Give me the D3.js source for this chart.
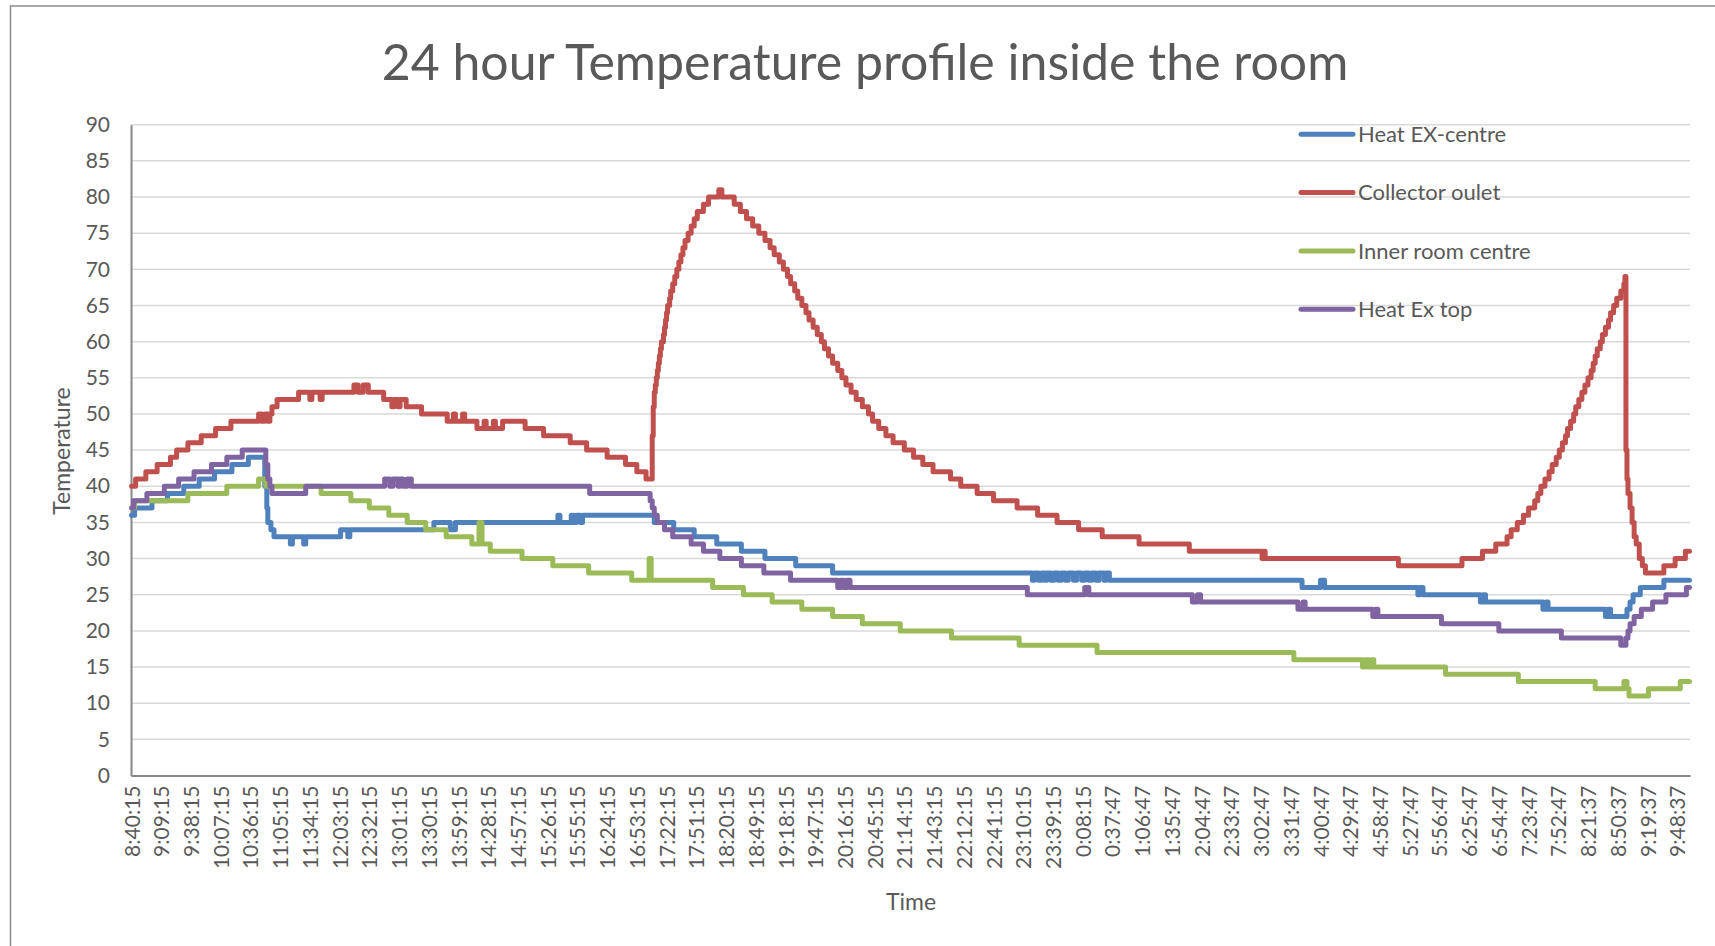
<!DOCTYPE html>
<html>
<head>
<meta charset="utf-8">
<script src="https://cdn.jsdelivr.net/npm/d3@7"></script>
<style>
  html, body { margin: 0; padding: 0; background: #fff; }
  svg { display: block; font-family: Lato, "Open Sans", sans-serif; }
</style>
</head>
<body>
<div id="chart"></div>
<script>
// one reading per minute, 1521 readings, shown as [index, value] wherever the value changes
const pointCount = 1521;

const tickLabels = ['8:40:15', '9:09:15', '9:38:15', '10:07:15', '10:36:15', '11:05:15', '11:34:15',
    '12:03:15', '12:32:15', '13:01:15', '13:30:15', '13:59:15', '14:28:15', '14:57:15', '15:26:15',
    '15:55:15', '16:24:15', '16:53:15', '17:22:15', '17:51:15', '18:20:15', '18:49:15', '19:18:15',
    '19:47:15', '20:16:15', '20:45:15', '21:14:15', '21:43:15', '22:12:15', '22:41:15', '23:10:15',
    '23:39:15', '0:08:15', '0:37:47', '1:06:47', '1:35:47', '2:04:47', '2:33:47', '3:02:47', '3:31:47',
    '4:00:47', '4:29:47', '4:58:47', '5:27:47', '5:56:47', '6:25:47', '6:54:47', '7:23:47', '7:52:47',
    '8:21:37', '8:50:37', '9:19:37', '9:48:37'];
const tickEvery = 29;

const yTicks = d3.range(0, 91, 5);

const seriesNames = ['Heat EX-centre', 'Collector oulet', 'Inner room centre', 'Heat Ex top'];
const seriesColors = ['#4f81bd', '#c0504d', '#9bbb59', '#8064a2'];

const heatExCentre = [[0,36],[3,37],[20,38],[35,39],[51,40],[66,41],[81,42],[98,43],[114,44],[130,40],
    [132,37],[133,35],[136,34],[139,33],[155,32],[157,33],[168,32],[170,33],[204,34],[211,33],[213,34],
    [295,35],[311,34],[316,35],[416,36],[418,35],[429,36],[431,35],[434,36],[438,35],[440,36],[510,35],
    [529,34],[549,33],[571,32],[595,31],[618,30],[648,29],[684,28],[879,27],[881,28],[885,27],[888,28],
    [891,27],[893,28],[897,27],[900,28],[904,27],[907,28],[911,27],[914,28],[919,27],[922,28],[927,27],
    [930,28],[934,27],[937,28],[941,27],[944,28],[949,27],[951,28],[954,27],[1142,26],[1160,27],
    [1164,26],[1255,25],[1257,26],[1260,25],[1316,24],[1319,25],[1321,24],[1377,23],[1380,24],[1382,23],
    [1438,22],[1441,23],[1443,22],[1459,23],[1462,24],[1465,25],[1472,26],[1495,27]];

const collectorOutlet = [[0,40],[4,41],[14,42],[25,43],[38,44],[44,45],[55,46],[68,47],[82,48],[97,49],
    [124,50],[127,49],[130,50],[133,49],[135,50],[137,51],[142,52],[163,53],[174,52],[176,53],[184,52],
    [186,53],[217,54],[221,53],[226,54],[231,53],[246,52],[254,51],[256,52],[260,51],[262,52],[268,51],
    [283,50],[308,49],[314,50],[316,49],[323,50],[325,49],[337,48],[344,49],[346,48],[353,49],[355,48],
    [362,49],[384,48],[402,47],[428,46],[444,45],[464,44],[482,43],[493,42],[502,41],[508,47],[509,51],
    [510,53],[511,54],[512,55],[513,56],[514,57],[515,58],[516,59],[517,60],[519,61],[520,62],[521,63],
    [522,64],[523,65],[525,66],[526,67],[528,68],[530,69],[532,70],[534,71],[536,72],[538,73],[540,74],
    [543,75],[546,76],[549,77],[552,78],[558,79],[563,80],[573,81],[576,80],[588,79],[594,78],[600,77],
    [606,76],[612,75],[618,74],[623,73],[627,72],[632,71],[636,70],[640,69],[643,68],[647,67],[650,66],
    [654,65],[658,64],[661,63],[665,62],[669,61],[673,60],[676,59],[680,58],[684,57],[689,56],[693,55],
    [697,54],[702,53],[707,52],[713,51],[719,50],[723,49],[729,48],[736,47],[743,46],[754,45],[763,44],
    [772,43],[782,42],[799,41],[809,40],[825,39],[841,38],[864,37],[884,36],[903,35],[924,34],[947,33],
    [983,32],[1032,31],[1103,30],[1105,31],[1106,30],[1236,29],[1298,30],[1318,31],[1331,32],[1342,33],
    [1346,34],[1352,35],[1358,36],[1363,37],[1369,38],[1372,39],[1375,40],[1379,41],[1383,42],[1386,43],
    [1390,44],[1393,45],[1396,46],[1399,47],[1401,48],[1404,49],[1407,50],[1409,51],[1412,52],[1415,53],
    [1418,54],[1421,55],[1424,56],[1426,57],[1428,58],[1430,59],[1433,60],[1435,61],[1438,62],[1441,63],
    [1443,64],[1446,65],[1449,66],[1453,67],[1456,68],[1457,69],[1458,45],[1459,41],[1460,39],[1462,37],
    [1464,35],[1466,33],[1468,32],[1471,30],[1474,29],[1477,28],[1495,29],[1506,30],[1516,31]];

const innerRoomCentre = [[0,37],[3,38],[55,39],[93,40],[124,41],[131,40],[185,39],[214,38],[232,37],
    [251,36],[269,35],[287,34],[307,33],[332,32],[339,35],[342,32],[350,31],[381,30],[411,29],[446,28],
    [488,27],[505,30],[507,27],[567,26],[597,25],[625,24],[654,23],[684,22],[713,21],[750,20],[800,19],
    [866,18],[942,17],[1134,16],[1201,15],[1204,16],[1207,15],[1210,16],[1212,15],[1282,14],[1353,13],
    [1428,12],[1456,13],[1459,12],[1461,11],[1480,12],[1511,13]];

const heatExTop = [[0,37],[2,38],[15,39],[32,40],[46,41],[61,42],[78,43],[93,44],[108,45],[131,43],
    [133,41],[135,40],[137,39],[170,40],[247,41],[252,40],[255,41],[260,40],[262,41],[265,40],[269,41],
    [273,40],[447,39],[506,38],[508,37],[510,36],[513,35],[520,34],[528,33],[546,32],[558,31],[574,30],
    [595,29],[617,28],[643,27],[689,26],[692,27],[695,26],[698,27],[701,26],[874,25],[930,26],[934,25],
    [1035,24],[1040,25],[1043,24],[1138,23],[1143,24],[1145,23],[1211,22],[1214,23],[1216,22],[1278,21],
    [1334,20],[1395,19],[1453,18],[1458,19],[1460,20],[1462,21],[1466,22],[1473,23],[1484,24],[1497,25],
    [1517,26]];

const seriesData = [heatExCentre, collectorOutlet, innerRoomCentre, heatExTop];

const width = 1715, height = 946;
const margin = {left: 131, right: 25, top: 124.7, bottom: 170.5};
const textColor = '#595959';

const svg = d3.select('#chart').append('svg')
    .attr('width', width).attr('height', height);

// chart frame (only top and left edges are inside the picture)
svg.append('rect')
    .attr('x', 10.5).attr('y', 6)
    .attr('width', width + 20).attr('height', height + 20)
    .attr('fill', 'none').attr('stroke', '#8c8c8c').attr('stroke-width', 1.5);

const x = d3.scaleLinear().domain([0, pointCount]).range([margin.left, width - margin.right]);
const y = d3.scaleLinear().domain([0, 90]).range([height - margin.bottom, margin.top]);

// gridlines
svg.append('g')
    .selectAll('line')
    .data(yTicks.filter(d => d > 0))
    .join('line')
    .attr('x1', x(0)).attr('x2', x(pointCount))
    .attr('y1', d => y(d)).attr('y2', d => y(d))
    .attr('stroke', '#d9d9d9').attr('stroke-width', 1.5);

// y axis
const yAxis = svg.append('g')
    .attr('transform', `translate(${x(0)},0)`)
    .call(d3.axisLeft(y).tickValues(yTicks).tickSize(0).tickPadding(21));
yAxis.select('.domain').attr('stroke', '#868686').attr('stroke-width', 2);
yAxis.selectAll('text').attr('fill', textColor).style('font-size', '21px').style('font-family', 'Lato');

// x axis, a label every 29 readings
const tickIndex = tickLabels.map((t, k) => k * tickEvery);
const xAxis = svg.append('g')
    .attr('transform', `translate(0,${y(0)})`)
    .call(d3.axisBottom(x).tickValues(tickIndex.map(i => i + 0.5)).tickSize(0)
        .tickFormat((d, k) => tickLabels[k]));
xAxis.select('.domain').attr('stroke', '#868686').attr('stroke-width', 2);
xAxis.selectAll('text')
    .attr('fill', textColor).style('font-size', '21px').style('font-family', 'Lato')
    .attr('text-anchor', 'end')
    .attr('transform', 'rotate(-90)')
    .attr('x', -10).attr('y', 0).attr('dy', '0.36em');

// series
const line = d3.line()
    .x(d => x(d[0] + 0.5))
    .y(d => y(d[1]))
    .curve(d3.curveStepAfter);

svg.append('g')
    .selectAll('path')
    .data(seriesData)
    .join('path')
    .attr('d', d => line(d.concat([[pointCount - 1, d[d.length - 1][1]]])))
    .attr('fill', 'none')
    .attr('stroke', (d, k) => seriesColors[k])
    .attr('stroke-width', 5)
    .attr('stroke-linejoin', 'round')
    .attr('stroke-linecap', 'round');

// title
svg.append('text')
    .attr('x', 865).attr('y', 80)
    .attr('text-anchor', 'middle')
    .attr('fill', textColor)
    .style('font-size', '50px')
    .text('24 hour Temperature profile inside the room');

// axis titles
svg.append('text')
    .attr('transform', 'translate(62,451) rotate(-90)')
    .attr('text-anchor', 'middle').attr('dy', '0.35em')
    .attr('fill', textColor).style('font-size', '23px')
    .text('Temperature');

svg.append('text')
    .attr('x', 911).attr('y', 902)
    .attr('text-anchor', 'middle').attr('dy', '0.35em')
    .attr('fill', textColor).style('font-size', '23px')
    .text('Time');

// legend
const legend = svg.append('g')
    .selectAll('g')
    .data(seriesNames)
    .join('g')
    .attr('transform', (d, k) => `translate(1301,${134.3 + k * 58.3})`);
legend.append('line')
    .attr('x1', 0).attr('x2', 52)
    .attr('stroke', (d, k) => seriesColors[k])
    .attr('stroke-width', 5).attr('stroke-linecap', 'round');
legend.append('text')
    .attr('x', 57).attr('dy', '0.35em')
    .attr('fill', textColor).style('font-size', '22px')
    .text(d => d);
</script>
</body>
</html>
